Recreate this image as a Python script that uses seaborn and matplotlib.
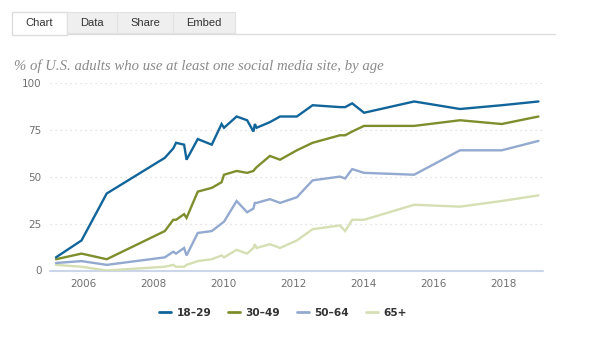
import numpy as np
import pandas as pd
import matplotlib
matplotlib.use("Agg")
import matplotlib.pyplot as plt
from matplotlib.patches import Rectangle
from matplotlib.lines import Line2D
import seaborn as sns

# ---- data ----
years = [2005.23, 2005.96, 2006.68, 2008.34, 2008.58, 2008.66, 2008.89, 2008.96,
         2009.28, 2009.68, 2009.96, 2010.03, 2010.39, 2010.69, 2010.87, 2010.91,
         2010.96, 2011.34, 2011.63, 2012.11, 2012.56, 2013.34, 2013.49, 2013.69,
         2014.03, 2015.46, 2016.77, 2017.96, 2019.01]
age_18_29 = [7, 16, 41, 60, 65, 68, 67, 59, 70, 67, 78, 76, 82, 80, 74, 78, 76,
             79, 82, 82, 88, 87, 87, 89, 84, 90, 86, 88, 90]
age_30_49 = [6, 9, 6, 21, 27, 27, 30, 28, 42, 44, 47, 51, 53, 52, 53, 54, 55,
             61, 59, 64, 68, 72, 72, 74, 77, 77, 80, 78, 82]
age_50_64 = [4, 5, 3, 7, 10, 9, 12, 8, 20, 21, 25, 26, 37, 31, 33, 36, 36,
             38, 36, 39, 48, 50, 49, 54, 52, 51, 64, 64, 69]
age_65_up = [3, 2, 0, 2, 3, 2, 2, 3, 5, 6, 8, 7, 11, 9, 12, 14, 12,
             14, 12, 16, 22, 24, 21, 27, 27, 35, 34, 37, 40]
groups = ["18\u201329", "30\u201349", "50\u201364", "65+"]
y_ticks = [0, 25, 50, 75, 100]
x_ticks = [2006, 2008, 2010, 2012, 2014, 2016, 2018]
title = "% of U.S. adults who use at least one social media site, by age"
tabs = ["Chart", "Data", "Share", "Embed"]

colors = ["#12659A", "#7E8E2C", "#93A9CF", "#D5DFB3"]

frames = []
for g, vals in zip(groups, [age_18_29, age_30_49, age_50_64, age_65_up]):
    frames.append(pd.DataFrame({"year": years, "pct": vals, "group": g}))
df = pd.concat(frames, ignore_index=True)

sns.set_theme(style="white")
plt.rcParams["font.family"] = ["DejaVu Sans"]

W, H = 600, 342
fig = plt.figure(figsize=(6, 3.42), dpi=100)
fig.patch.set_facecolor("white")

ax = fig.add_axes([50 / W, 1 - 270.5 / H, (543 - 50) / W, (270.5 - 82.7) / H])
sns.lineplot(data=df, x="year", y="pct", hue="group", hue_order=groups,
             palette=colors, linewidth=1.7, ax=ax, legend=False,
             estimator=None, sort=False)
for ln, z in zip(ax.get_lines(), [5, 4, 3, 2]):
    ln.set_zorder(z)
    ln.set_solid_joinstyle("miter")

ax.set_xlim(2005.06, 2019.14)
ax.set_ylim(0, 100)
ax.set_xlabel("")
ax.set_ylabel("")
for s in ax.spines.values():
    s.set_visible(False)
ax.set_yticks(y_ticks)
ax.set_xticks(x_ticks)
ax.set_yticklabels([str(t) for t in y_ticks], fontsize=7.5, color="#707070")
ax.set_xticklabels([str(t) for t in x_ticks], fontsize=7.5, color="#707070")
ax.tick_params(axis="both", length=0, pad=6)
for t in y_ticks[1:]:
    ax.axhline(t, color="#dadada", lw=0.9, ls=(0, (1, 3)), zorder=0)
ax.axhline(0, color="#ccd6ea", lw=1.5, zorder=1, clip_on=False)
ax.set_facecolor("none")

# title
fig.text(14 / W, 1 - 66 / H, title, fontsize=10.6, style="italic",
         family=["Liberation Serif", "DejaVu Serif"], color="#8a8a8a",
         va="center", ha="left")

# tabs
line_y = 1 - 33.5 / H
fig.add_artist(Line2D([67 / W, 555 / W], [line_y, line_y], color="#dddddd", lw=1))
tab_edges = [12, 67, 117, 173, 235]
for i, name in enumerate(tabs):
    x0, x1 = tab_edges[i], tab_edges[i + 1]
    if i == 0:
        fig.add_artist(Rectangle((x0 / W, 1 - 35 / H), (x1 - x0) / W, 23 / H,
                                 facecolor="white", edgecolor="#dddddd", lw=1))
    else:
        fig.add_artist(Rectangle((x0 / W, 1 - 33 / H), (x1 - x0) / W, 21 / H,
                                 facecolor="#efefef", edgecolor="#e2e2e2", lw=0.8))
    fig.text((x0 + x1) / 2 / W, 1 - 22.5 / H, name, fontsize=8,
             family=["Liberation Sans", "DejaVu Sans"], color="#333333",
             ha="center", va="center")

# legend
handles = [Line2D([0], [0], color=c, lw=2) for c in colors]
leg = fig.legend(handles, groups, loc="center", bbox_to_anchor=(283 / W, 1 - 313 / H),
                 ncol=4, frameon=False, handlelength=1.1, handletextpad=0.55,
                 columnspacing=1.6, prop={"size": 7.6, "weight": "bold"})
for t in leg.get_texts():
    t.set_color("#333333")

fig.savefig("out.png", dpi=100, facecolor="white")
